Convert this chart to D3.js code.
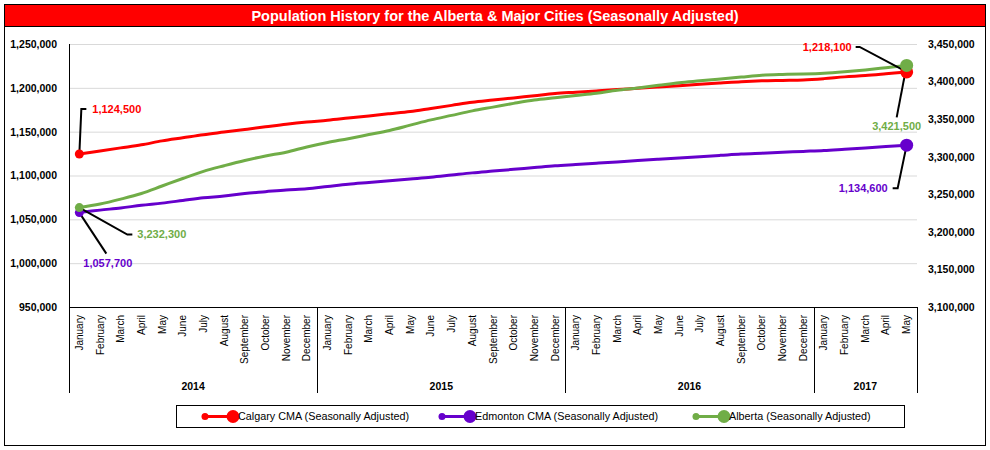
<!DOCTYPE html>
<html>
<head>
<meta charset="utf-8">
<script src="https://cdn.jsdelivr.net/npm/d3@7"></script>
<style>
  html, body { margin: 0; padding: 0; background: #fff; }
  svg { display: block; font-family: "Liberation Sans", Arial, sans-serif; }
</style>
</head>
<body>
<svg id="chart" width="990" height="450"></svg>
<script>
// ---------------- DATA ----------------
const years = ["2014", "2015", "2016", "2017"];
const monthNames = ["January","February","March","April","May","June","July","August","September","October","November","December"];
const monthsPerYear = [12, 12, 12, 5];

const calgary = [
  1124500, 1128000, 1131500, 1135000, 1139500, 1143000, 1146500, 1149500, 1152500, 1155500, 1158500, 1161000,
  1163000, 1165500, 1168000, 1170500, 1173000, 1176500, 1180000, 1183500, 1186000, 1188500, 1191000, 1193500,
  1195000, 1196500, 1198000, 1199500, 1201000, 1202500, 1204000, 1205500, 1207000, 1208000, 1208500, 1209000,
  1210500, 1212500, 1214000, 1216000, 1218100
];
const edmonton = [
  1057700, 1060500, 1063000, 1066000, 1068500, 1071500, 1074500, 1076500, 1079500, 1081500, 1083500, 1085000,
  1087500, 1090000, 1092000, 1094000, 1096000, 1098000, 1100500, 1103000, 1105000, 1107000, 1109000, 1111000,
  1112500, 1114000, 1115500, 1117000, 1118500, 1120000, 1121500, 1123000, 1124500, 1125500, 1126500, 1127500,
  1128500, 1130000, 1131500, 1133000, 1134600
];
const alberta = [
  3232300, 3237000, 3243500, 3251000, 3261000, 3271000, 3280500, 3288000, 3295000, 3301000, 3306000, 3313000,
  3319000, 3324000, 3329500, 3335000, 3342000, 3349000, 3355000, 3361000, 3366000, 3371000, 3375500, 3378500,
  3381500, 3384500, 3388500, 3391500, 3395000, 3398500, 3401000, 3403500, 3406000, 3408500, 3409500, 3410000,
  3411000, 3413000, 3415500, 3418500, 3421500
];
const leftTicks = [950000, 1000000, 1050000, 1100000, 1150000, 1200000, 1250000];
const rightTicks = [3100000, 3150000, 3200000, 3250000, 3300000, 3350000, 3400000, 3450000];
const seriesNames = ["Calgary CMA (Seasonally Adjusted)", "Edmonton CMA (Seasonally Adjusted)", "Alberta (Seasonally Adjusted)"];
const titleText = "Population History for the Alberta & Major Cities (Seasonally Adjusted)";

// ---------------- BUILD ----------------
const categories = [];
years.forEach((y, yi) => {
  for (let m = 0; m < monthsPerYear[yi]; m++) categories.push({ year: y, month: monthNames[m] });
});
const idx = d3.range(categories.length);

const colors = { cal: "#FF0000", edm: "#6600CC", alb: "#70AD47" };
const fmt = d3.format(",");

const svg = d3.select("#chart");
const W = 990, H = 450;
const plot = { left: 69, right: 917, top: 44, bottom: 307 };

// outer border
svg.append("rect").attr("x", 4.5).attr("y", 4.5).attr("width", W - 9).attr("height", H - 9)
  .attr("fill", "#fff").attr("stroke", "#000").attr("stroke-width", 1);

// title bar
svg.append("rect").attr("x", 5).attr("y", 5).attr("width", W - 10).attr("height", 21).attr("fill", "#FF0000");
svg.append("line").attr("x1", 5).attr("x2", W - 5).attr("y1", 26.5).attr("y2", 26.5).attr("stroke", "#000");
svg.append("text").attr("x", W / 2).attr("y", 20.5).attr("text-anchor", "middle")
  .attr("fill", "#fff").attr("font-weight", "bold").attr("font-size", 14.5).text(titleText);

// scales
const x = d3.scaleBand().domain(idx).range([plot.left, plot.right]).padding(0);
const cx = i => x(i) + x.bandwidth() / 2;
const yL = d3.scaleLinear().domain([950000, 1250000]).range([plot.bottom, plot.top]);
const yR = d3.scaleLinear().domain([3100000, 3450000]).range([plot.bottom, plot.top]);

// gridlines
const grid = svg.append("g").attr("transform", `translate(${plot.left},0)`)
  .call(d3.axisLeft(yL).tickValues(leftTicks.slice(1)).tickSize(-(plot.right - plot.left)).tickFormat(""));
grid.select(".domain").remove();
grid.selectAll("line").attr("stroke", "#D9D9D9").attr("stroke-width", 1);

// left axis labels
const gL = svg.append("g").attr("transform", `translate(${plot.left},0)`)
  .call(d3.axisLeft(yL).tickValues(leftTicks).tickSize(0).tickPadding(12).tickFormat(fmt));
gL.select(".domain").remove();
gL.selectAll("text").attr("font-size", 10.5).attr("font-weight", "bold").attr("fill", "#000")
  .attr("font-family", "Liberation Sans, Arial, sans-serif");

// right axis labels
const gR = svg.append("g").attr("transform", `translate(${plot.right},0)`)
  .call(d3.axisRight(yR).tickValues(rightTicks).tickSize(0).tickPadding(11).tickFormat(fmt));
gR.select(".domain").remove();
gR.selectAll("text").attr("font-size", 10.5).attr("font-weight", "bold").attr("fill", "#000")
  .attr("font-family", "Liberation Sans, Arial, sans-serif");

// left axis line
svg.append("line").attr("x1", plot.left + 0.5).attr("x2", plot.left + 0.5)
  .attr("y1", plot.top).attr("y2", plot.bottom).attr("stroke", "#000");

// category axis
const gX = svg.append("g").attr("transform", `translate(0,${plot.bottom})`)
  .call(d3.axisBottom(x).tickSize(0).tickFormat(i => categories[i].month));
gX.select(".domain").attr("stroke", "#000");
gX.selectAll("text").attr("font-size", 10).attr("fill", "#000")
  .attr("font-family", "Liberation Sans, Arial, sans-serif")
  .attr("text-anchor", "end").attr("transform", "rotate(-90)")
  .attr("x", -8).attr("y", 0).attr("dy", "0.35em");

// year separators & labels
let start = 0;
const sepX = [x(0)];
years.forEach((y, yi) => {
  const end = start + monthsPerYear[yi];
  const x0 = x(start), x1 = end < categories.length ? x(end) : plot.right;
  sepX.push(x1);
  svg.append("text").attr("x", (x0 + x1) / 2).attr("y", 390).attr("text-anchor", "middle")
    .attr("font-size", 10.5).attr("font-weight", "bold").text(y);
  start = end;
});
svg.selectAll("line.sep").data(sepX).enter().append("line").attr("class", "sep")
  .attr("x1", d => Math.round(d) + 0.5).attr("x2", d => Math.round(d) + 0.5)
  .attr("y1", plot.bottom).attr("y2", 393).attr("stroke", "#000");

// lines
const series = [
  { key: "cal", data: calgary, y: yL },
  { key: "edm", data: edmonton, y: yL },
  { key: "alb", data: alberta, y: yR }
];
series.forEach(s => {
  const line = d3.line().x((d, i) => cx(i)).y(d => s.y(d)).curve(d3.curveCatmullRom.alpha(0.5));
  svg.append("path").datum(s.data).attr("d", line).attr("fill", "none")
    .attr("stroke", colors[s.key]).attr("stroke-width", 3).attr("stroke-linecap", "round");
});

// leader lines and labels
const last = categories.length - 1;
const P = s => ({ first: [cx(0), s.y(s.data[0])], last: [cx(last), s.y(s.data[last])] });
const pc = P(series[0]), pe = P(series[1]), pa = P(series[2]);
const leaders = [
  [pc.first, [pc.first[0] + 2, pc.first[1] - 45], [pc.first[0] + 7, pc.first[1] - 45]],
  [pe.first, [pe.first[0] + 27, pe.first[1] + 41]],
  [pa.first, [pa.first[0] + 48, pa.first[1] + 27], [pa.first[0] + 53, pa.first[1] + 27]],
  [pc.last, [pc.last[0] - 47, pc.last[1] - 25], [pc.last[0] - 51, pc.last[1] - 25]],
  [pa.last, [pa.last[0] - 10, pa.last[1] + 52]],
  [pe.last, [pe.last[0] - 9, pe.last[1] + 43], [pe.last[0] - 14, pe.last[1] + 43]]
];
leaders.forEach(pts => {
  svg.append("path").attr("d", d3.line()(pts)).attr("fill", "none")
    .attr("stroke", "#000").attr("stroke-width", 2);
});

// markers
const markers = [
  { p: pc.first, c: colors.cal, r: 4.5 }, { p: pe.first, c: colors.edm, r: 4.5 }, { p: pa.first, c: colors.alb, r: 4.5 },
  { p: pc.last, c: colors.cal, r: 6.5 }, { p: pe.last, c: colors.edm, r: 6.5 }, { p: pa.last, c: colors.alb, r: 6.5 }
];
svg.selectAll("circle.mk").data(markers).enter().append("circle").attr("class", "mk")
  .attr("cx", d => d.p[0]).attr("cy", d => d.p[1]).attr("r", d => d.r).attr("fill", d => d.c);

const labels = [
  { t: fmt(calgary[0]), x: pc.first[0] + 13, y: pc.first[1] - 45, c: colors.cal, a: "start" },
  { t: fmt(edmonton[0]), x: pe.first[0] + 4, y: pe.first[1] + 51, c: colors.edm, a: "start" },
  { t: fmt(alberta[0]), x: pa.first[0] + 58, y: pa.first[1] + 27, c: colors.alb, a: "start" },
  { t: fmt(calgary[last]), x: pc.last[0] - 55, y: pc.last[1] - 25, c: colors.cal, a: "end" },
  { t: fmt(alberta[last]), x: pa.last[0] - 10, y: pa.last[1] + 61, c: colors.alb, a: "middle" },
  { t: fmt(edmonton[last]), x: pe.last[0] - 19, y: pe.last[1] + 43, c: colors.edm, a: "end" }
];
svg.selectAll("text.dl").data(labels).enter().append("text").attr("class", "dl")
  .attr("x", d => d.x).attr("y", d => d.y).attr("dy", "0.35em").attr("text-anchor", d => d.a)
  .attr("fill", d => d.c).attr("font-size", 11).attr("font-weight", "bold").text(d => d.t);

// legend
svg.append("rect").attr("x", 176.5).attr("y", 405.5).attr("width", 728).attr("height", 22)
  .attr("fill", "#fff").attr("stroke", "#000");
const legX = [205, 442, 696];
const legKeys = ["cal", "edm", "alb"];
legKeys.forEach((k, i) => {
  const g = svg.append("g").attr("transform", `translate(${legX[i]},416.5)`);
  g.append("line").attr("x1", 0).attr("x2", 28).attr("y1", 0).attr("y2", 0)
    .attr("stroke", colors[k]).attr("stroke-width", 3);
  g.append("circle").attr("cx", 0).attr("cy", 0).attr("r", 3.5).attr("fill", colors[k]);
  g.append("circle").attr("cx", 28).attr("cy", 0).attr("r", 6.5).attr("fill", colors[k]);
  g.append("text").attr("x", 33).attr("y", 0).attr("dy", "0.35em").attr("font-size", 10.8)
    .attr("fill", "#000").text(seriesNames[i]);
});
</script>
</body>
</html>
